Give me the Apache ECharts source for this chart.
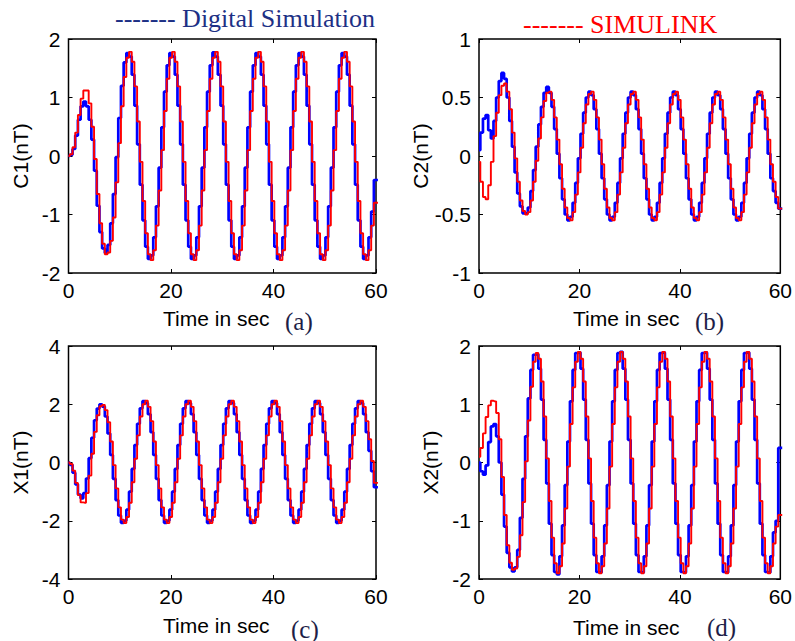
<!DOCTYPE html>
<html><head><meta charset="utf-8">
<script src="https://cdn.jsdelivr.net/npm/echarts@6/dist/echarts.min.js"></script>
<style>html,body{margin:0;padding:0;background:#fff;}#c{width:795px;height:641px;}</style>
</head><body><div id="c"></div>
<script>
// sample times (s)
const time = [0, 0.525, 1.05, 1.575, 2.1, 2.625, 3.15, 3.675, 4.2, 4.725, 5.25, 5.775, 6.3, 6.825, 7.35, 7.875,
 8.4, 8.925, 9.45, 9.975, 10.5, 11.025, 11.55, 12.075, 12.6, 13.125, 13.65, 14.175, 14.7, 15.225, 15.75, 16.275,
 16.8, 17.325, 17.85, 18.375, 18.9, 19.425, 19.95, 20.475, 21, 21.525, 22.05, 22.575, 23.1, 23.625, 24.15, 24.675,
 25.2, 25.725, 26.25, 26.775, 27.3, 27.825, 28.35, 28.875, 29.4, 29.925, 30.45, 30.975, 31.5, 32.025, 32.55, 33.075,
 33.6, 34.125, 34.65, 35.175, 35.7, 36.225, 36.75, 37.275, 37.8, 38.325, 38.85, 39.375, 39.9, 40.425, 40.95, 41.475,
 42, 42.525, 43.05, 43.575, 44.1, 44.625, 45.15, 45.675, 46.2, 46.725, 47.25, 47.775, 48.3, 48.825, 49.35, 49.875,
 50.4, 50.925, 51.45, 51.975, 52.5, 53.025, 53.55, 54.075, 54.6, 55.125, 55.65, 56.175, 56.7, 57.225, 57.75, 58.275,
 58.8, 59.325, 59.85, 60.375];

// (a) C1
const c1Digital = [0.00, 0.02, 0.12, 0.35, 0.62, 0.85, 0.93, 0.85, 0.62, 0.28, -0.25, -0.85, -1.30, -1.58, -1.66, -1.52,
 -1.15, -0.65, -0.02, 0.65, 1.20, 1.60, 1.76, 1.70, 1.39, 0.86, 0.20, -0.49, -1.10, -1.55, -1.76, -1.70,
 -1.39, -0.86, -0.20, 0.49, 1.10, 1.55, 1.76, 1.70, 1.39, 0.86, 0.20, -0.49, -1.10, -1.55, -1.76, -1.70,
 -1.39, -0.86, -0.20, 0.49, 1.10, 1.55, 1.77, 1.70, 1.39, 0.86, 0.20, -0.49, -1.10, -1.55, -1.76, -1.70,
 -1.39, -0.86, -0.20, 0.49, 1.10, 1.55, 1.76, 1.70, 1.39, 0.86, 0.20, -0.49, -1.10, -1.55, -1.76, -1.70,
 -1.39, -0.86, -0.20, 0.49, 1.10, 1.55, 1.76, 1.70, 1.39, 0.86, 0.20, -0.49, -1.10, -1.55, -1.76, -1.70,
 -1.39, -0.86, -0.20, 0.49, 1.10, 1.55, 1.76, 1.70, 1.39, 0.86, 0.20, -0.49, -1.10, -1.55, -1.76, -1.70,
 -1.39, -0.95, -0.41, -0.41];
const c1Simulink = [0.00, 0.03, 0.15, 0.40, 0.70, 0.98, 1.12, 1.12, 0.90, 0.50, -0.05, -0.65, -1.15, -1.50, -1.68, -1.65,
 -1.45, -1.05, -0.45, 0.22, 0.85, 1.35, 1.68, 1.78, 1.61, 1.19, 0.59, -0.10, -0.77, -1.32, -1.68, -1.78,
 -1.61, -1.19, -0.59, 0.10, 0.77, 1.32, 1.68, 1.78, 1.61, 1.19, 0.59, -0.10, -0.77, -1.32, -1.68, -1.78,
 -1.61, -1.19, -0.59, 0.10, 0.77, 1.32, 1.68, 1.78, 1.61, 1.19, 0.59, -0.10, -0.77, -1.32, -1.68, -1.78,
 -1.61, -1.19, -0.59, 0.10, 0.77, 1.32, 1.68, 1.78, 1.61, 1.19, 0.59, -0.10, -0.77, -1.32, -1.68, -1.78,
 -1.61, -1.19, -0.59, 0.10, 0.77, 1.32, 1.68, 1.78, 1.61, 1.19, 0.59, -0.10, -0.77, -1.32, -1.68, -1.78,
 -1.61, -1.19, -0.59, 0.10, 0.77, 1.32, 1.68, 1.78, 1.61, 1.19, 0.59, -0.10, -0.77, -1.32, -1.68, -1.78,
 -1.61, -1.19, -0.80, -0.80];

// (b) C2
const c2Digital = [0.05, 0.20, 0.32, 0.35, 0.22, 0.15, 0.30, 0.50, 0.64, 0.71, 0.66, 0.50, 0.30, 0.08, -0.14, -0.32,
 -0.43, -0.49, -0.49, -0.44, -0.30, -0.12, 0.08, 0.27, 0.42, 0.54, 0.59, 0.54, 0.42, 0.23, 0.02, -0.19,
 -0.37, -0.50, -0.55, -0.52, -0.40, -0.23, -0.02, 0.19, 0.37, 0.50, 0.55, 0.52, 0.40, 0.23, 0.02, -0.19,
 -0.37, -0.50, -0.55, -0.52, -0.40, -0.23, -0.02, 0.19, 0.37, 0.50, 0.55, 0.52, 0.40, 0.23, 0.02, -0.19,
 -0.37, -0.50, -0.55, -0.52, -0.40, -0.23, -0.02, 0.19, 0.37, 0.50, 0.55, 0.52, 0.40, 0.23, 0.02, -0.19,
 -0.37, -0.50, -0.55, -0.52, -0.40, -0.23, -0.02, 0.19, 0.37, 0.50, 0.55, 0.52, 0.40, 0.23, 0.02, -0.19,
 -0.37, -0.50, -0.55, -0.52, -0.40, -0.23, -0.02, 0.19, 0.37, 0.50, 0.55, 0.52, 0.40, 0.23, 0.02, -0.19,
 -0.30, -0.40, -0.45, -0.45];
const c2Simulink = [-0.05, -0.22, -0.35, -0.37, -0.25, -0.05, 0.17, 0.37, 0.52, 0.60, 0.62, 0.55, 0.40, 0.20, -0.02, -0.22,
 -0.38, -0.47, -0.50, -0.48, -0.38, -0.22, -0.04, 0.15, 0.33, 0.47, 0.54, 0.55, 0.48, 0.33, 0.14, -0.07,
 -0.28, -0.44, -0.53, -0.55, -0.48, -0.33, -0.14, 0.07, 0.28, 0.44, 0.53, 0.55, 0.48, 0.33, 0.14, -0.07,
 -0.28, -0.44, -0.53, -0.55, -0.48, -0.33, -0.14, 0.07, 0.28, 0.44, 0.53, 0.55, 0.48, 0.33, 0.14, -0.07,
 -0.28, -0.44, -0.53, -0.55, -0.48, -0.33, -0.14, 0.07, 0.28, 0.44, 0.53, 0.55, 0.48, 0.33, 0.14, -0.07,
 -0.28, -0.44, -0.53, -0.55, -0.48, -0.33, -0.14, 0.07, 0.28, 0.44, 0.53, 0.55, 0.48, 0.33, 0.14, -0.07,
 -0.28, -0.44, -0.53, -0.55, -0.48, -0.33, -0.14, 0.07, 0.28, 0.44, 0.53, 0.55, 0.48, 0.33, 0.14, -0.07,
 -0.22, -0.35, -0.45, -0.45];

// (c) X1
const x1Digital = [0.00, -0.08, -0.35, -0.75, -1.10, -1.23, -1.05, -0.55, 0.15, 0.85, 1.45, 1.85, 2.00, 1.92, 1.58, 1.00,
 0.26, -0.56, -1.29, -1.82, -2.07, -2.00, -1.62, -1.00, -0.22, 0.60, 1.33, 1.86, 2.11, 2.04, 1.66, 1.04,
 0.26, -0.56, -1.29, -1.82, -2.07, -2.00, -1.62, -1.00, -0.22, 0.60, 1.33, 1.86, 2.11, 2.04, 1.66, 1.04,
 0.26, -0.56, -1.29, -1.82, -2.07, -2.00, -1.62, -1.00, -0.22, 0.60, 1.33, 1.86, 2.11, 2.04, 1.66, 1.04,
 0.26, -0.56, -1.29, -1.82, -2.07, -2.00, -1.62, -1.00, -0.22, 0.60, 1.33, 1.86, 2.11, 2.04, 1.66, 1.04,
 0.26, -0.56, -1.29, -1.82, -2.07, -2.00, -1.62, -1.00, -0.22, 0.60, 1.33, 1.86, 2.11, 2.04, 1.66, 1.04,
 0.26, -0.56, -1.29, -1.82, -2.07, -2.00, -1.62, -1.00, -0.22, 0.60, 1.33, 1.86, 2.11, 2.04, 1.66, 1.04,
 0.40, -0.30, -0.85, -0.85];
const x1Simulink = [0.00, -0.05, -0.28, -0.70, -1.12, -1.37, -1.38, -1.05, -0.45, 0.30, 1.05, 1.62, 1.93, 1.98, 1.80, 1.38,
 0.72, -0.09, -0.89, -1.54, -1.96, -2.08, -1.87, -1.38, -0.68, 0.13, 0.93, 1.58, 2.00, 2.12, 1.91, 1.42,
 0.72, -0.09, -0.89, -1.54, -1.96, -2.08, -1.87, -1.38, -0.68, 0.13, 0.93, 1.58, 2.00, 2.12, 1.91, 1.42,
 0.72, -0.09, -0.89, -1.54, -1.96, -2.08, -1.87, -1.38, -0.68, 0.13, 0.93, 1.58, 2.00, 2.12, 1.91, 1.42,
 0.72, -0.09, -0.89, -1.54, -1.96, -2.08, -1.87, -1.38, -0.68, 0.13, 0.93, 1.58, 2.00, 2.12, 1.91, 1.42,
 0.72, -0.09, -0.89, -1.54, -1.96, -2.08, -1.87, -1.38, -0.68, 0.13, 0.93, 1.58, 2.00, 2.12, 1.91, 1.42,
 0.72, -0.09, -0.89, -1.54, -1.96, -2.08, -1.87, -1.38, -0.68, 0.13, 0.93, 1.58, 2.00, 2.12, 1.91, 1.42,
 0.80, 0.05, -0.70, -0.70];

// (d) X2
const x2Digital = [0.00, -0.15, -0.21, -0.05, 0.35, 0.62, 0.66, 0.45, 0.00, -0.55, -1.10, -1.55, -1.80, -1.87, -1.80, -1.50,
 -0.95, -0.28, 0.45, 1.10, 1.59, 1.85, 1.86, 1.61, 1.08, 0.39, -0.36, -1.05, -1.59, -1.88, -1.92, -1.61,
 -1.08, -0.39, 0.36, 1.05, 1.59, 1.88, 1.89, 1.61, 1.08, 0.39, -0.36, -1.05, -1.59, -1.88, -1.89, -1.61,
 -1.08, -0.39, 0.36, 1.05, 1.59, 1.88, 1.90, 1.61, 1.08, 0.39, -0.36, -1.05, -1.59, -1.88, -1.89, -1.61,
 -1.08, -0.39, 0.36, 1.05, 1.59, 1.88, 1.89, 1.61, 1.08, 0.39, -0.36, -1.05, -1.59, -1.88, -1.89, -1.61,
 -1.08, -0.39, 0.36, 1.05, 1.59, 1.88, 1.89, 1.61, 1.08, 0.39, -0.36, -1.05, -1.59, -1.88, -1.89, -1.61,
 -1.08, -0.39, 0.36, 1.05, 1.59, 1.88, 1.89, 1.61, 1.08, 0.39, -0.36, -1.05, -1.59, -1.88, -1.89, -1.61,
 -1.20, -1.00, 0.25, 0.25];
const x2Simulink = [0.10, 0.25, 0.50, 0.78, 0.98, 1.06, 1.05, 0.85, 0.40, -0.25, -0.90, -1.42, -1.72, -1.84, -1.82, -1.62,
 -1.25, -0.68, 0.02, 0.72, 1.30, 1.73, 1.88, 1.78, 1.39, 0.79, 0.07, -0.66, -1.29, -1.73, -1.90, -1.78,
 -1.39, -0.79, -0.07, 0.66, 1.29, 1.73, 1.90, 1.78, 1.39, 0.79, 0.07, -0.66, -1.29, -1.73, -1.90, -1.78,
 -1.39, -0.79, -0.07, 0.66, 1.29, 1.73, 1.90, 1.78, 1.39, 0.79, 0.07, -0.66, -1.29, -1.73, -1.90, -1.78,
 -1.39, -0.79, -0.07, 0.66, 1.29, 1.73, 1.90, 1.78, 1.39, 0.79, 0.07, -0.66, -1.29, -1.73, -1.90, -1.78,
 -1.39, -0.79, -0.07, 0.66, 1.29, 1.73, 1.90, 1.78, 1.39, 0.79, 0.07, -0.66, -1.29, -1.73, -1.90, -1.78,
 -1.39, -0.79, -0.07, 0.66, 1.29, 1.73, 1.90, 1.78, 1.39, 0.79, 0.07, -0.66, -1.29, -1.73, -1.90, -1.78,
 -1.39, -1.10, -0.90, -0.90];

const panelNames = ['C1(nT)', 'C2(nT)', 'X1(nT)', 'X2(nT)'];
const panelTags = ['(a)', '(b)', '(c)', '(d)'];
const yMins = [-2, -1, -4, -2];
const yMaxs = [2, 1, 4, 2];
const yIntervals = [1, 0.5, 2, 1];
const xTickStep = 20;
const digitalSeries = [c1Digital, c2Digital, x1Digital, x2Digital];
const simulinkSeries = [c1Simulink, c2Simulink, x1Simulink, x2Simulink];

// layout (pixels)
const boxes = [
  {left: 68.5, top: 39, width: 307.5, height: 234},
  {left: 479, top: 39, width: 307, height: 234},
  {left: 68.5, top: 346, width: 307.5, height: 233},
  {left: 479, top: 346, width: 307, height: 233}
];
const sans = '"Liberation Sans", Arial, sans-serif';
const serif = '"Liberation Serif", "Times New Roman", serif';

const grid = [], xAxis = [], yAxis = [], series = [];
boxes.forEach((b, i) => {
  grid.push({left: b.left, top: b.top, width: b.width, height: b.height, show: true,
    borderColor: '#000', borderWidth: 1.5, backgroundColor: 'transparent'});
  const tick = {show: true, inside: true, length: 4, lineStyle: {color: '#000', width: 1}};
  ['bottom', 'top'].forEach(pos => {
    xAxis.push({gridIndex: i, type: 'value', position: pos, min: 0, max: 60, interval: xTickStep,
      axisLine: {show: false, onZero: false}, axisTick: tick, splitLine: {show: false},
      axisLabel: {show: pos === 'bottom', color: '#000', fontSize: 21, fontFamily: sans, margin: 7}});
  });
  ['left', 'right'].forEach(pos => {
    yAxis.push({gridIndex: i, type: 'value', position: pos, min: yMins[i], max: yMaxs[i], interval: yIntervals[i],
      name: pos === 'left' ? panelNames[i] : '', nameLocation: 'middle', nameGap: 38, nameRotate: 90,
      nameTextStyle: {color: '#000', fontSize: 21, fontFamily: sans},
      axisLine: {show: false, onZero: false}, axisTick: tick, splitLine: {show: false},
      axisLabel: {show: pos === 'left', color: '#000', fontSize: 21, fontFamily: sans, margin: 8}});
  });
  series.push({type: 'line', xAxisIndex: 2 * i, yAxisIndex: 2 * i, step: 'middle', symbol: 'none',
    data: time.map((t, j) => [t, digitalSeries[i][j]]),
    lineStyle: {color: '#0000ff', width: 2.7}, z: 2});
  series.push({type: 'line', xAxisIndex: 2 * i, yAxisIndex: 2 * i, step: 'middle', symbol: 'none',
    data: time.map((t, j) => [t, simulinkSeries[i][j]]),
    lineStyle: {color: '#ff0000', width: 1.9}, z: 3});
});

const xLabelPos = [[163, 318], [573, 318], [163, 625], [573, 627]];
const tagPos = [[285, 321], [695, 321], [291, 629], [707, 627]];
const graphic = [
  {type: 'text', style: {x: 115, y: 18, text: '------- Digital Simulation', font: '26px ' + serif, fill: '#1d3085',
    align: 'left', verticalAlign: 'middle', textAlign: 'left', textVerticalAlign: 'middle'}},
  {type: 'text', style: {x: 523, y: 24, text: '------- SIMULINK', font: '26px ' + serif, fill: '#ff0000',
    align: 'left', verticalAlign: 'middle', textAlign: 'left', textVerticalAlign: 'middle'}}
];
xLabelPos.forEach((p, i) => {
  graphic.push({type: 'text', style: {x: p[0], y: p[1], text: 'Time in sec', font: '21px ' + sans, fill: '#000',
    align: 'left', verticalAlign: 'middle', textAlign: 'left', textVerticalAlign: 'middle'}});
  graphic.push({type: 'text', style: {x: tagPos[i][0], y: tagPos[i][1], text: panelTags[i], font: '25px ' + serif, fill: '#1e1e48',
    align: 'left', verticalAlign: 'middle', textAlign: 'left', textVerticalAlign: 'middle'}});
});

const chart = echarts.init(document.getElementById('c'), null, {renderer: 'svg', width: 795, height: 641});
chart.setOption({animation: false, backgroundColor: '#fff', grid, xAxis, yAxis, series, graphic});
</script></body></html>
